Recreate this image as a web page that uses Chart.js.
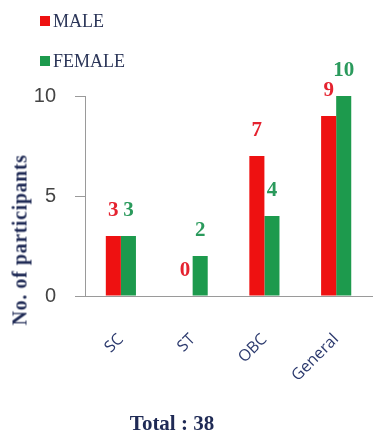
<!DOCTYPE html>
<html>
<head>
<meta charset="utf-8">
<script src="https://cdn.jsdelivr.net/npm/chart.js@4"></script>
<style>
  html, body { margin: 0; padding: 0; background: #fff; }
  #wrap { position: relative; width: 384px; height: 436px; }
  #chart { position: absolute; left: 0; top: 0; }
  .leg { position: absolute; left: 40px; font: 18px "Liberation Serif", serif; color: #2b3558; }
  .leg i { display: inline-block; width: 10px; height: 10px; margin-right: 3px; vertical-align: 1px; }
  #ytitle { position: absolute; left: 20px; top: 240px; transform: translate(-50%, -50%) rotate(-90deg);
    font: bold 20px "Liberation Serif", serif; letter-spacing: 0.6px; color: #1f2a55; white-space: nowrap; }
  #total { position: absolute; left: 172px; top: 423px; transform: translate(-50%, -50%);
    font: bold 21px "Liberation Serif", serif; color: #1f2a55; white-space: nowrap; }
</style>
</head>
<body>
<div id="wrap">
  <canvas id="chart" width="384" height="436"></canvas>
  <div class="leg" style="top:11px"><i style="background:#ee1111"></i>MALE</div>
  <div class="leg" style="top:51px"><i style="background:#1d9a4d"></i>FEMALE</div>
  <div id="ytitle">No. of participants</div>
  <div id="total">Total : 38</div>
</div>
<script>
const categories = ["SC", "ST", "OBC", "General"];
const male = [3, 0, 7, 9];
const female = [3, 2, 4, 10];
const yTicks = [0, 5, 10];

const labelColors = ["#e5222f", "#2a9a5c"];

// draws the value above each bar
const valueLabels = {
  id: 'valueLabels',
  afterDatasetsDraw(chart) {
    const ctx = chart.ctx;
    ctx.save();
    ctx.font = 'bold 21px "Liberation Serif", serif';
    ctx.textAlign = 'center';
    ctx.textBaseline = 'bottom';
    chart.data.datasets.forEach((ds, i) => {
      chart.getDatasetMeta(i).data.forEach((bar, j) => {
        ctx.fillStyle = labelColors[i];
        ctx.fillText(String(ds.data[j]), bar.x, bar.y - 15);
      });
    });
    ctx.restore();
  }
};

const ctx = document.getElementById("chart").getContext("2d");
new Chart(ctx, {
  type: 'bar',
  data: {
    labels: categories,
    datasets: [
      { label: "MALE", data: male, backgroundColor: "#ee1111",
        categoryPercentage: 0.42, barPercentage: 1.0 },
      { label: "FEMALE", data: female, backgroundColor: "#1d9a4d",
        categoryPercentage: 0.42, barPercentage: 1.0 }
    ]
  },
  options: {
    responsive: false,
    animation: false,
    layout: { padding: { top: 96, right: 2, bottom: 0, left: 0 } },
    plugins: {
      legend: { display: false },
      tooltip: { enabled: false }
    },
    scales: {
      x: {
        afterFit(scale) { scale.height = 140; },
        grid: { display: false, drawTicks: false },
        border: { color: '#9a9a9a' },
        ticks: {
          color: '#2c3a6e',
          font: { family: '"Open Sans", sans-serif', size: 16 },
          minRotation: 45, maxRotation: 45,
          padding: 34
        }
      },
      y: {
        min: 0, max: 10,
        afterFit(scale) { scale.width = 85; },
        afterBuildTicks(scale) { scale.ticks = yTicks.map(v => ({ value: v })); },
        grid: { drawOnChartArea: false, tickLength: 10, color: '#9a9a9a' },
        border: { color: '#9a9a9a' },
        ticks: {
          color: '#444',
          font: { family: '"Liberation Sans", sans-serif', size: 20 },
          padding: 19
        }
      }
    }
  },
  plugins: [valueLabels]
});
</script>
</body>
</html>
